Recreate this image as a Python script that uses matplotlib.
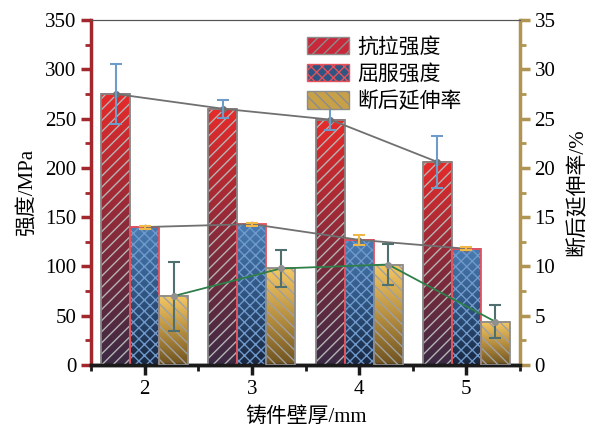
import matplotlib
matplotlib.use("Agg")
import matplotlib.pyplot as plt
import numpy as np
from matplotlib.colors import LinearSegmentedColormap
from matplotlib.patches import Patch
from matplotlib.ticker import MultipleLocator

plt.rcParams['font.family'] = ['Liberation Serif', 'Noto Sans CJK SC']
plt.rcParams['hatch.linewidth'] = 1.0

# data
thickness = [2, 3, 4, 5]
tensile = [275, 260, 249, 206]
tensile_err = [30, 9, 11, 26]
yield_str = [140, 143, 127, 118]
yield_err = [1.5, 1.5, 5, 1.5]
elong = [7.0, 9.8, 10.2, 4.4]
elong_err = [3.5, 1.9, 2.1, 1.7]

labels = ['抗拉强度', '屈服强度', '断后延伸率']

w = 0.27
x = np.array(thickness, dtype=float)

fig = plt.figure(figsize=(5.95, 4.26), dpi=100)
ax = fig.add_axes([0.153, 0.143, 0.721, 0.81])
ax2 = ax.twinx()

cm_red = LinearSegmentedColormap.from_list('r', ['#3b2b45', '#8a2a3a', '#e82a2a'])
cm_blue = LinearSegmentedColormap.from_list('b', ['#1a2740', '#2f5582', '#4a7cb3'])
cm_yel = LinearSegmentedColormap.from_list('y', ['#6e5220', '#b89040', '#f6c965'])
grad = np.linspace(1, 0, 256).reshape(-1, 1)


def gradient_bars(axis, xs, vals, cmap, hatch, hcol, edge, z):
    bars = axis.bar(xs, vals, w, color='none', edgecolor=hcol, linewidth=0,
                    hatch=hatch, zorder=z + 1)
    for b in bars:
        x0, y0 = b.get_x(), b.get_y()
        axis.imshow(grad, extent=[x0, x0 + b.get_width(), y0, y0 + b.get_height()],
                    aspect='auto', cmap=cmap, zorder=z, interpolation='bilinear')
    axis.bar(xs, vals, w, color='none', edgecolor=edge, linewidth=1.3, zorder=z + 2)


gradient_bars(ax, x - w, tensile, cm_red, '///', '#b4b4b4', '#858585', 2)
gradient_bars(ax, x, yield_str, cm_blue, 'xxx', '#6f9acb', '#e8505a', 2)
gradient_bars(ax2, x + w, elong, cm_yel, r'\\\ '.strip(), '#a0a0a0', '#8c8c8c', 2)

ax.plot(x - w, tensile, color='#707070', lw=1.3, marker='o', ms=4, zorder=6)
ax.errorbar(x - w, tensile, yerr=tensile_err, fmt='none', ecolor='#6e9cc8',
            elinewidth=1.5, capsize=4, capthick=1.5, zorder=7)
ax.plot(x, yield_str, color='#707070', lw=1.3, marker='o', ms=3, zorder=6)
ax.errorbar(x, yield_str, yerr=yield_err, fmt='none', ecolor='#f0b848',
            elinewidth=1.5, capsize=4, capthick=1.5, zorder=7)
ax2.plot(x + w, elong, color='#2e8048', lw=1.3, zorder=6)
ax2.errorbar(x + w, elong, yerr=elong_err, fmt='o', color='#909090', ms=4,
             ecolor='#507070', elinewidth=1.5, capsize=4, capthick=1.5, zorder=7)

ax.set_xlim(1.5, 5.5)
ax.set_ylim(0, 350)
ax2.set_ylim(0, 35)
ax.set_xticks(thickness)
ax.xaxis.set_minor_locator(MultipleLocator(0.5))
ax.yaxis.set_major_locator(MultipleLocator(50))
ax.yaxis.set_minor_locator(MultipleLocator(25))
ax2.yaxis.set_major_locator(MultipleLocator(5))
ax2.yaxis.set_minor_locator(MultipleLocator(2.5))

red_axis = '#a3282e'
gold_axis = '#b09452'
for a in (ax, ax2):
    a.spines['top'].set_linewidth(0.8)
    a.spines['top'].set_color('#555555')
    a.spines['bottom'].set_linewidth(2.5)
    a.spines['bottom'].set_color('#1a1a1a')
ax.spines['left'].set_color(red_axis)
ax.spines['left'].set_linewidth(2.5)
ax2.spines['left'].set_visible(False)
ax2.spines['right'].set_color(gold_axis)
ax2.spines['right'].set_linewidth(2.5)
ax.spines['right'].set_visible(False)

ax.tick_params(axis='y', which='major', color=red_axis, width=2.5, length=7, labelsize=15)
ax.tick_params(axis='y', which='minor', color=red_axis, width=2, length=4)
ax2.tick_params(axis='y', which='major', color=gold_axis, width=2.5, length=7, labelsize=15)
ax2.tick_params(axis='y', which='minor', color=gold_axis, width=2, length=4)
ax.tick_params(axis='x', which='major', color='#1a1a1a', width=2.5, length=7, labelsize=15)
ax.tick_params(axis='x', which='minor', color='#1a1a1a', width=2, length=4)

ax.set_xlabel('铸件壁厚/mm', fontsize=15, labelpad=6)
ax.set_ylabel('强度/MPa', fontsize=15, labelpad=6)
ax2.set_ylabel('断后延伸率/%', fontsize=15, labelpad=8)

handles = [
    Patch(facecolor='#c8283a', edgecolor='#8c8c8c', hatch='///', label=labels[0]),
    Patch(facecolor='#2f5582', edgecolor='#e8505a', hatch='xxx', label=labels[1]),
    Patch(facecolor='#c8a048', edgecolor='#8c8c8c', hatch='\\\\\\', label=labels[2]),
]
leg = ax2.legend(handles=handles, loc='upper left', bbox_to_anchor=(0.46, 1.005),
                 frameon=False, fontsize=15, handlelength=2.0, handleheight=0.9,
                 labelspacing=0.3, handletextpad=0.4)
leg.set_zorder(10)

fig.savefig('out.png', dpi=100)
